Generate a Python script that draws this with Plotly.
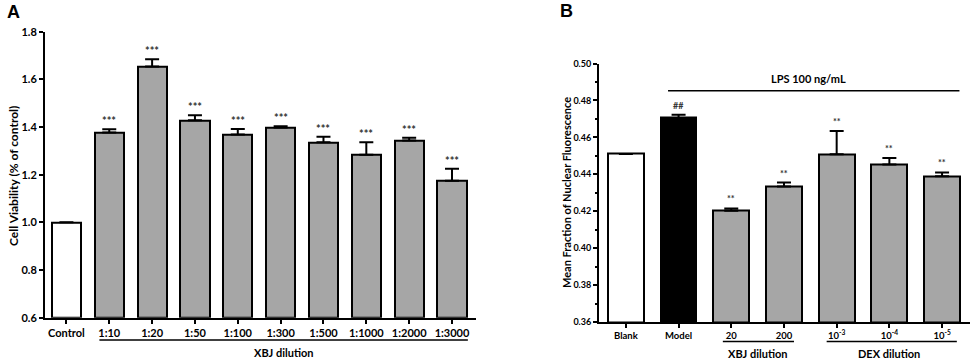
import plotly.graph_objects as go

# Panel A data
a_groups = ["Control", "1:10", "1:20", "1:50", "1:100", "1:300", "1:500", "1:1000", "1:2000", "1:3000"]
a_values = [1.0, 1.377, 1.654, 1.428, 1.369, 1.398, 1.336, 1.284, 1.344, 1.175]
a_errors = [None, 0.014, 0.030, 0.021, 0.023, 0.005, 0.023, 0.052, 0.011, 0.050]
a_marks = ["", "***", "***", "***", "***", "***", "***", "***", "***", "***"]

# Panel B data
b_groups = ["Blank", "Model", "20", "200", "10<sup>-3</sup>", "10<sup>-4</sup>", "10<sup>-5</sup>"]
b_values = [0.451, 0.4705, 0.4202, 0.4334, 0.4508, 0.4453, 0.4389]
b_errors = [None, 0.0017, 0.0013, 0.0021, 0.0127, 0.0035, 0.0021]
b_marks = ["", "##", "**", "**", "**", "**", "**"]

GRAY = "#a6a6a6"
FONT = "Lato"
W, H = 973, 360


def px(x):
    return x / W


def py(y):
    return 1 - y / H


a_colors = ["white"] + [GRAY] * (len(a_groups) - 1)
b_colors = ["white", "black"] + [GRAY] * (len(b_groups) - 2)

fig = go.Figure()

fig.add_trace(go.Bar(
    x=list(range(len(a_groups))), y=[v - 0.6 for v in a_values], base=0.6,
    width=0.68, marker=dict(color=a_colors, line=dict(color="black", width=2)),
    error_y=dict(type="data", array=a_errors, arrayminus=[0] * len(a_errors), symmetric=False,
                 color="black", thickness=2, width=7),
    xaxis="x", yaxis="y", showlegend=False,
))

fig.add_trace(go.Bar(
    x=list(range(len(b_groups))), y=[v - 0.36 for v in b_values], base=0.36,
    width=0.68, marker=dict(color=b_colors, line=dict(color="black", width=2)),
    error_y=dict(type="data", array=b_errors, arrayminus=[0] * len(b_errors), symmetric=False,
                 color="black", thickness=2, width=7),
    xaxis="x2", yaxis="y2", showlegend=False,
))

tickfont = dict(family=FONT, size=11, color="black", weight="bold")
axis_style = dict(ticks="outside", ticklen=4, tickwidth=1.5, tickcolor="black",
                  showline=True, linecolor="black", linewidth=2, showgrid=False,
                  zeroline=False, automargin=False)

fig.update_layout(
    width=W, height=H,
    margin=dict(l=0, r=0, t=0, b=0),
    plot_bgcolor="white", paper_bgcolor="white",
    bargap=0,
    xaxis=dict(domain=[px(45), px(476)], range=[-0.5, 9.56], anchor="y",
               tickvals=list(range(len(a_groups))), ticktext=a_groups,
               tickfont=tickfont, **axis_style),
    yaxis=dict(domain=[py(317.7), py(31.7)], range=[0.6, 1.8], anchor="x",
               tickvals=[0.6, 0.8, 1.0, 1.2, 1.4, 1.6, 1.8], tickformat=".1f",
               tickfont=tickfont, **axis_style),
    xaxis2=dict(domain=[px(599), px(970)], range=[-0.51, 6.53], anchor="y2",
                tickvals=list(range(len(b_groups))), ticktext=b_groups,
                tickfont=dict(tickfont, size=9.5), **axis_style),
    yaxis2=dict(domain=[py(322), py(63.5)], range=[0.36, 0.50], anchor="x2",
                tickvals=[0.36, 0.38, 0.40, 0.42, 0.44, 0.46, 0.48, 0.50], tickformat=".2f",
                minor=dict(dtick=0.01, ticks="outside", ticklen=2, tickcolor="black", showgrid=False),
                tickfont=dict(tickfont, size=9), **axis_style),
)


def label(x, y, text, size=11, xref="paper", yref="paper", angle=0, family=FONT, color="black"):
    fig.add_annotation(x=x, y=y, xref=xref, yref=yref, text=text, showarrow=False,
                       xanchor="center", yanchor="middle", textangle=angle,
                       font=dict(family=family, size=size, color=color, weight="bold"))


# significance marks
for i, m in enumerate(a_marks):
    if m:
        fig.add_annotation(x=i, y=a_values[i] + a_errors[i], xref="x", yref="y", text=m,
                           showarrow=False, xanchor="center", yanchor="bottom", yshift=0,
                           font=dict(family=FONT, size=11, color="#333", weight="bold"))
for i, m in enumerate(b_marks):
    if m:
        fig.add_annotation(x=i, y=b_values[i] + b_errors[i], xref="x2", yref="y2", text=m,
                           showarrow=False, xanchor="center", yanchor="bottom", yshift=2,
                           font=dict(family=FONT, size=9, color="#333", weight="bold"))

# panel letters
label(px(13), py(12), "A", size=18, family="Liberation Sans")
label(px(566), py(11), "B", size=18, family="Liberation Sans")

# axis titles
label(px(13), py(176), "Cell Viability (% of control)", size=12, angle=-90)
label(px(566), py(193), "Mean Fraction of Nuclear Fluorescence", size=11, angle=-90)

# group brackets
line = dict(color="black", width=1.5)
fig.add_shape(type="line", xref="x", yref="paper", x0=0.77, x1=9.37,
              y0=py(340), y1=py(340), line=line)
label(5.07, py(352), "XBJ dilution", xref="x")

fig.add_shape(type="line", xref="x2", yref="paper", x0=0.8, x1=6.33,
              y0=py(90.7), y1=py(90.7), line=line)
label(3.46, py(78), "LPS 100 ng/mL", xref="x2")

fig.add_shape(type="line", xref="x2", yref="paper", x0=1.84, x1=3.19,
              y0=py(341.5), y1=py(341.5), line=line)
label(2.5, py(353), "XBJ dilution", xref="x2")
fig.add_shape(type="line", xref="x2", yref="paper", x0=3.81, x1=6.28,
              y0=py(341.5), y1=py(341.5), line=line)
label(5.0, py(353), "DEX dilution", xref="x2")

fig.write_html("out.html", config={"displayModeBar": False},
               post_script="document.body.style.margin = '0px';")
